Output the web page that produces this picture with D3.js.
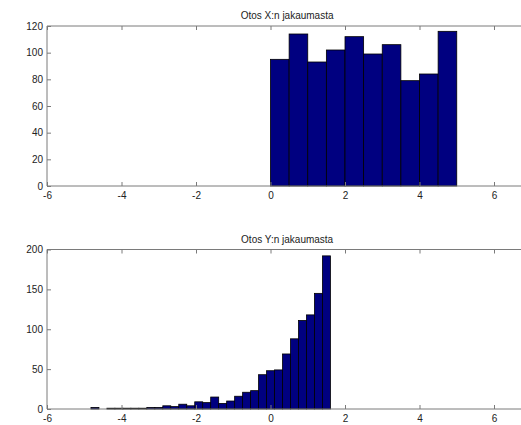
<!DOCTYPE html>
<html><head><meta charset="utf-8">
<script src="https://cdn.jsdelivr.net/npm/d3@7"></script>
<style>
html,body{margin:0;padding:0;background:#fff;}
svg{display:block;}
text{font-family:"Liberation Sans",Arial,Helvetica,sans-serif;font-size:10px;fill:#222;}
</style></head>
<body>
<svg id="c" width="521" height="425"></svg>
<script>
// Top histogram: sample of X (10 bins from 0 to 5)
const titleX = "Otos X:n jakaumasta";
const binEdgesX = [0, 0.5, 1, 1.5, 2, 2.5, 3, 3.5, 4, 4.5, 5];
const countsX = [95, 114, 93, 102, 112, 99, 106, 79, 84, 116];

// Bottom histogram: sample of Y (30 equal bins from min to max)
const titleY = "Otos Y:n jakaumasta";
const rangeY = [-4.82, 1.609];
const countsY = [2, 0, 1, 1, 1, 1, 1, 2, 2, 4, 3, 6, 4, 9, 8, 15, 7, 10, 16, 21, 23, 43, 48, 49, 69, 88, 111, 118, 145, 192];

const xTicks = [-6, -4, -2, 0, 2, 4, 6];
const yTicksTop = [0, 20, 40, 60, 80, 100, 120];
const yTicksBottom = [0, 50, 100, 150, 200];

const svg = d3.select("#c");
const axisColor = "#7a7a7a";

function panel(top, bottom, yMax, yTicks, title, bars) {
  const x = d3.scaleLinear().domain([-6, 7]).range([47, 531.25]);
  const y = d3.scaleLinear().domain([0, yMax]).range([bottom, top]);
  const g = svg.append("g");

  g.selectAll("rect.bar").data(bars).enter().append("rect")
    .attr("class", "bar")
    .attr("x", d => x(d.x0))
    .attr("width", d => x(d.x1) - x(d.x0))
    .attr("y", d => y(d.v))
    .attr("height", d => y(0) - y(d.v))
    .attr("fill", "#000080")
    .attr("stroke", d => d.v > 0 ? "#000" : "none")
    .attr("stroke-width", 0.8);

  // box
  const [xl, xr] = x.range();
  g.append("path")
    .attr("d", `M${xl},${top}H${xr}M${xl},${top}V${bottom}H${xr}`)
    .attr("stroke", axisColor).attr("fill", "none").attr("stroke-width", 1);

  // bottom axis: ticks inside, labels below
  const xb = d3.axisBottom(x).tickValues(xTicks).tickSizeInner(-4).tickSizeOuter(0).tickPadding(5.5).tickFormat(d3.format("d"));
  const ax = g.append("g").attr("transform", `translate(0,${bottom})`).call(xb);
  ax.select(".domain").remove();
  ax.selectAll("line").attr("stroke", axisColor);
  ax.selectAll("text").attr("fill", "#222").attr("font-size", 10.5).text(d => d < 0 ? "-" + Math.abs(d) : d);

  // top ticks
  const xt = d3.axisTop(x).tickValues(xTicks).tickSizeInner(-4).tickSizeOuter(0).tickFormat("");
  const at = g.append("g").attr("transform", `translate(0,${top})`).call(xt);
  at.select(".domain").remove();
  at.selectAll("line").attr("stroke", axisColor);

  // left axis
  const yl = d3.axisLeft(y).tickValues(yTicks).tickSizeInner(-4).tickSizeOuter(0).tickPadding(8);
  const ay = g.append("g").attr("transform", `translate(${xl},0)`).call(yl);
  ay.select(".domain").remove();
  ay.selectAll("line").attr("stroke", axisColor);
  ay.selectAll("text").attr("fill", "#222").attr("font-size", 10.5).attr("x", -4);

  g.append("text").attr("x", (xl + xr) / 2 - 2).attr("y", top - 7)
    .attr("text-anchor", "middle").attr("font-size", 10.7).text(title);
}

const barsX = countsX.map((v, i) => ({x0: binEdgesX[i], x1: binEdgesX[i + 1], v}));
const wY = (rangeY[1] - rangeY[0]) / countsY.length;
const barsY = countsY.map((v, i) => ({x0: rangeY[0] + i * wY, x1: rangeY[0] + (i + 1) * wY, v}));

panel(26, 186, 120, yTicksTop, titleX, barsX);
panel(249.5, 409, 200, yTicksBottom, titleY, barsY);
</script>
</body></html>
